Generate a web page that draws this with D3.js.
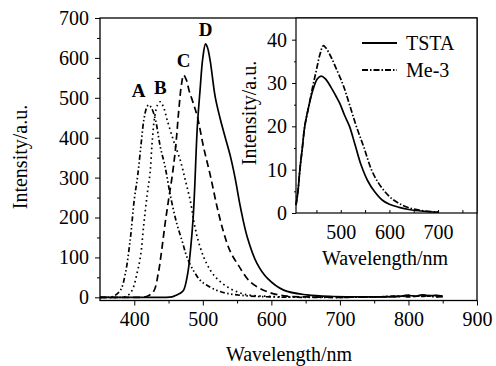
<!DOCTYPE html>
<meta charset="utf-8">
<title>PL spectra</title>
<style>
    body { margin: 0; background: #fff; }
    svg { font-family: "Liberation Serif", "Times New Roman", serif; }
    .axis path.domain { display: none; }
    .axis line { stroke: #000; stroke-width: 1; }
    .axis text { fill: #000; }
    .frame { fill: none; stroke: #000; stroke-width: 1.3; }
    .curve { fill: none; stroke: #000; stroke-width: 1.7; }
</style>
<body>
<svg id="chart" width="496" height="366"></svg>
<script src="https://d3js.org/d3.v7.min.js"></script>
<script>
    // main spectra
    var wlA  = [350, 360, 370, 380, 387, 394, 400, 405, 410, 414, 418, 421, 425, 431, 438, 445, 453, 462, 470, 477, 487, 496, 506, 521, 535, 550, 570, 600, 650, 700, 750, 790, 800, 810, 820, 830, 840, 850];
    var intA = [0, 0, 3, 18, 60, 143, 245, 305, 385, 445, 475, 482, 475, 444, 377, 327, 252, 185, 140, 100, 65, 43, 30, 17, 10, 6, 3, 1, 0, 0, 1, 3, 1, 4, 2, 4, 1, 2];
    var wlB  = [350, 380, 390, 397, 404, 409, 414, 419, 423, 426, 430, 434, 438, 443, 448, 457, 467, 475, 482, 487, 492, 501, 511, 520, 535, 560, 600, 650, 700, 750, 790, 800, 810, 820, 830, 840, 850];
    var intB = [0, 0, 4, 18, 60, 102, 185, 260, 311, 386, 455, 482, 490, 475, 444, 394, 344, 290, 240, 190, 150, 102, 68, 48, 27, 8, 2, 1, 0, 1, 2, 4, 2, 5, 3, 2, 1];
    var wlC  = [350, 400, 410, 418, 428, 435, 440, 445, 450, 455, 460, 465, 469, 472, 476, 480, 486, 492, 501, 511, 521, 530, 540, 552, 569, 594, 623, 650, 700, 750, 790, 800, 810, 820, 830, 840, 850];
    var intC = [0, 0, 0, 2, 14, 60, 118, 185, 244, 300, 370, 470, 535, 557, 545, 518, 487, 453, 377, 305, 225, 165, 115, 80, 39, 14, 3, 1, 0, 1, 3, 5, 2, 6, 3, 4, 2];
    var wlD  = [350, 440, 455, 462, 467, 472, 478, 482, 486, 488, 492, 496, 500, 504, 507, 511, 518, 525, 532, 540, 547, 555, 565, 579, 594, 618, 652, 690, 750, 790, 800, 810, 820, 830, 840, 850];
    var intD = [0, 0, 1, 6, 10, 18, 60, 118, 202, 269, 428, 520, 600, 635, 625, 590, 503, 450, 405, 355, 300, 225, 150, 85, 48, 18, 6, 2, 1, 3, 5, 3, 6, 4, 5, 3];

    // inset spectra
    var wlTSTA  = [408, 412, 416, 421, 426, 435, 443, 452, 460, 468, 480, 490, 498, 508, 518, 530, 542, 555, 569, 585, 600, 620, 640, 670, 700];
    var intTSTA = [1.8, 5, 10, 15, 20, 25, 28.5, 31, 31.6, 31, 29, 27, 25.3, 22.5, 20, 15.5, 11, 7.5, 5, 3, 2, 1.3, 0.8, 0.4, 0.2];
    var wlMe3   = [408, 412, 416, 421, 426, 435, 443, 450, 457, 464, 470, 480, 490, 505, 518, 532, 548, 563, 577, 590, 605, 620, 640, 670, 700];
    var intMe3  = [1.8, 5, 10, 15, 20, 25, 29.5, 33, 36.5, 38.6, 38, 36, 33.5, 29.5, 25, 20, 15, 10, 7, 5, 3.3, 2.2, 1.2, 0.5, 0.2];

    var xTicks = [400, 500, 600, 700, 800, 900];
    var yTicks = [0, 100, 200, 300, 400, 500, 600, 700];
    var xTicksIn = [500, 600, 700];
    var yTicksIn = [0, 10, 20, 30, 40];

    var serif = '"Liberation Serif", "Times New Roman", serif';
    var svg = d3.select("#chart");

    var x = d3.scaleLinear().domain([350, 900]).range([100, 477]);
    var y = d3.scaleLinear().domain([-8, 700]).range([300.5, 18]);

    var line = d3.line()
        .x(function(d) { return x(d[0]); })
        .y(function(d) { return y(d[1]); })
        .curve(d3.curveCatmullRom);

    var series = [
        {wl: wlA, v: intA, dash: "5,2.5,1.5,2.5,1.5,2.5", label: "A"},
        {wl: wlB, v: intB, dash: "1.6,3.2", label: "B"},
        {wl: wlC, v: intC, dash: "7,4", label: "C"},
        {wl: wlD, v: intD, dash: null, label: "D"}
    ];

    series.forEach(function(s) {
        svg.append("path")
            .attr("class", "curve")
            .attr("stroke-dasharray", s.dash)
            .attr("d", line(d3.zip(s.wl, s.v)));
    });

    // peak labels
    series.forEach(function(s) {
        var i = d3.maxIndex(s.v);
        svg.append("text")
            .attr("x", x(s.wl[i]) + (s.label == "A" ? -10 : 0))
            .attr("y", y(s.v[i]) - 8)
            .attr("text-anchor", "middle")
            .style("font-size", "19px")
            .style("font-weight", "bold")
            .text(s.label);
    });

    function styleTicks(g, size) {
        g.attr("font-family", null).attr("font-size", null);
        g.selectAll("text")
            .style("font-family", serif)
            .style("font-size", size + "px");
    }

    // main axes
    svg.append("g").attr("class", "axis")
        .attr("transform", "translate(0,300.5)")
        .call(d3.axisBottom(x).tickValues(xTicks).tickSize(5).tickPadding(6))
        .call(styleTicks, 20);
    svg.append("g").attr("class", "axis")
        .attr("transform", "translate(0,300.5)")
        .call(d3.axisBottom(x).tickValues([450, 550, 650, 750, 850]).tickSize(3).tickFormat(""));
    svg.append("g").attr("class", "axis")
        .attr("transform", "translate(100,0)")
        .call(d3.axisLeft(y).tickValues(yTicks).tickSize(5).tickPadding(6))
        .call(styleTicks, 20);
    svg.append("g").attr("class", "axis")
        .attr("transform", "translate(100,0)")
        .call(d3.axisLeft(y).tickValues([50, 150, 250, 350, 450, 550, 650]).tickSize(3).tickFormat(""));

    svg.append("rect").attr("class", "frame")
        .attr("x", 100).attr("y", 18)
        .attr("width", 377).attr("height", 282.5);

    svg.append("text")
        .attr("transform", "translate(27,157) rotate(-90)")
        .attr("text-anchor", "middle")
        .style("font-size", "20px")
        .text("Intensity/a.u.");
    svg.append("text")
        .attr("x", 289).attr("y", 361)
        .attr("text-anchor", "middle")
        .style("font-size", "20px")
        .text("Wavelength/nm");

    // inset
    var xi = d3.scaleLinear().domain([408, 780]).range([296, 477]);
    var yi = d3.scaleLinear().domain([0, 45]).range([213, 18]);

    svg.append("rect")
        .attr("x", 296).attr("y", 18)
        .attr("width", 181).attr("height", 195)
        .attr("fill", "#fff").attr("stroke", "#000").attr("stroke-width", 1.2);

    var lineIn = d3.line()
        .x(function(d) { return xi(d[0]); })
        .y(function(d) { return yi(d[1]); })
        .curve(d3.curveCatmullRom);

    svg.append("path").attr("class", "curve")
        .attr("stroke-width", 2.2)
        .attr("d", lineIn(d3.zip(wlTSTA, intTSTA)));
    svg.append("path").attr("class", "curve")
        .attr("stroke-width", 1.8)
        .attr("stroke-dasharray", "6,2,1.5,2")
        .attr("d", lineIn(d3.zip(wlMe3, intMe3)));

    svg.append("g").attr("class", "axis")
        .attr("transform", "translate(0,213)")
        .call(d3.axisBottom(xi).tickValues(xTicksIn).tickSize(-3).tickPadding(12))
        .call(styleTicks, 20);
    svg.append("g").attr("class", "axis")
        .attr("transform", "translate(0,213)")
        .call(d3.axisBottom(xi).tickValues([450, 550, 650, 750]).tickSize(-3).tickFormat(""));
    svg.append("g").attr("class", "axis")
        .attr("transform", "translate(296,0)")
        .call(d3.axisLeft(yi).tickValues(yTicksIn).tickSize(4).tickPadding(5))
        .call(styleTicks, 20);
    svg.append("g").attr("class", "axis")
        .attr("transform", "translate(296,0)")
        .call(d3.axisLeft(yi).tickValues([5, 15, 25, 35]).tickSize(2).tickFormat(""));

    svg.append("text")
        .attr("transform", "translate(256,113) rotate(-90)")
        .attr("text-anchor", "middle")
        .style("font-size", "20px")
        .text("Intensity/a.u.");
    svg.append("text")
        .attr("x", 385).attr("y", 265)
        .attr("text-anchor", "middle")
        .style("font-size", "20px")
        .text("Wavelength/nm");

    // legend
    var legend = [{name: "TSTA", dash: null, w: 2.2, y: 43}, {name: "Me-3", dash: "6,2,1.5,2", w: 1.8, y: 70}];
    legend.forEach(function(l) {
        svg.append("line")
            .attr("x1", 362).attr("x2", 397)
            .attr("y1", l.y).attr("y2", l.y)
            .attr("stroke", "#000").attr("stroke-width", l.w)
            .attr("stroke-dasharray", l.dash);
        svg.append("text")
            .attr("x", 406).attr("y", l.y + 7)
            .style("font-size", "20px")
            .text(l.name);
    });
</script>
</body>
